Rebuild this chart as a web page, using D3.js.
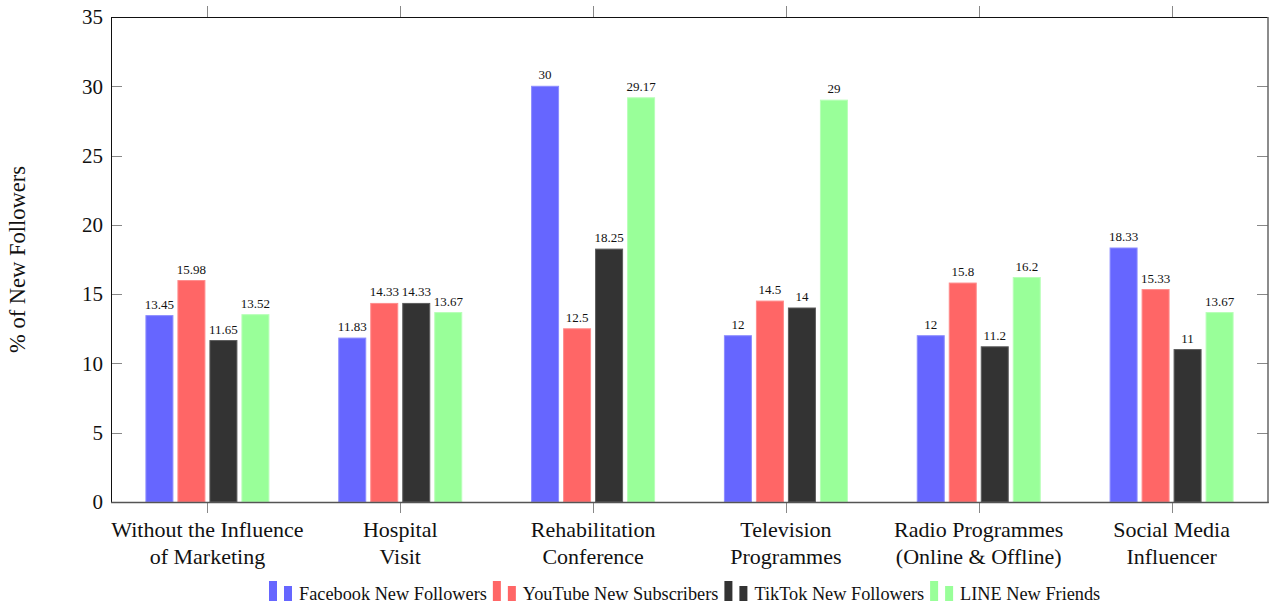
<!DOCTYPE html>
<html>
<head>
<meta charset="utf-8">
<script src="https://cdn.jsdelivr.net/npm/d3@7"></script>
<style>
  html, body { margin: 0; padding: 0; background: #fff; }
  svg { display: block; font-family: "Liberation Serif", "DejaVu Serif", serif; }
</style>
</head>
<body>
<svg id="chart" width="1270" height="607"></svg>
<script>
// Channels (x categories), each label split over two lines
const categories = [
  ["Without the Influence", "of Marketing"],
  ["Hospital", "Visit"],
  ["Rehabilitation", "Conference"],
  ["Television", "Programmes"],
  ["Radio Programmes", "(Online & Offline)"],
  ["Social Media", "Influencer"]
];

const seriesNames = ["Facebook New Followers", "YouTube New Subscribers", "TikTok New Followers", "LINE New Friends"];
const seriesColors = ["#6666ff", "#ff6666", "#333333", "#99ff99"];
const seriesEdges = ["#8c8cff", "#ff8c8c", "#5c5c5c", "#b8ffb8"];

const facebook = [13.45, 11.83, 30, 12, 12, 18.33];
const youtube  = [15.98, 14.33, 12.5, 14.5, 15.8, 15.33];
const tiktok   = [11.65, 14.33, 18.25, 14, 11.2, 11];
const line     = [13.52, 13.67, 29.17, 29, 16.2, 13.67];

const yTicks = [0, 5, 10, 15, 20, 25, 30, 35];

const series = [facebook, youtube, tiktok, line];

const svg = d3.select("#chart");
const plotL = 111, plotR = 1268, plotT = 17, plotB = 502;

const x = d3.scaleBand().domain(d3.range(categories.length)).range([plotL, plotR]).paddingInner(0).paddingOuter(0);
const y = d3.scaleLinear().domain([0, 35]).range([plotB, plotT]);

// offsets of the four bars around each category centre
const barW = 27, barStep = 32;
const offset = d3.scaleLinear().domain([0, 3]).range([-1.5 * barStep, 1.5 * barStep]);

// bars
series.forEach((vals, s) => {
  svg.append("g").selectAll("rect").data(vals).join("rect")
    .attr("x", (d, i) => x(i) + x.bandwidth() / 2 + offset(s) - barW / 2)
    .attr("y", d => y(d))
    .attr("width", barW)
    .attr("height", d => y(0) - y(d))
    .attr("fill", seriesColors[s])
    .attr("stroke", seriesEdges[s])
    .attr("stroke-width", 1);

  svg.append("g").selectAll("text").data(vals).join("text")
    .attr("x", (d, i) => x(i) + x.bandwidth() / 2 + offset(s))
    .attr("y", d => y(d) - 7)
    .attr("text-anchor", "middle")
    .attr("font-size", 13)
    .attr("fill", "#111")
    .text(d => d);
});

// y axis ticks (inward, both sides) and labels
const yAxisG = svg.append("g");
const innerTicks = yTicks.filter(t => t > 0 && t < 35);
yAxisG.selectAll("line.l").data(innerTicks).join("line")
  .attr("x1", plotL).attr("x2", plotL + 11)
  .attr("y1", d => Math.round(y(d)) + 0.5).attr("y2", d => Math.round(y(d)) + 0.5)
  .attr("stroke", "#888");
yAxisG.selectAll("line.r").data(innerTicks).join("line")
  .attr("x1", plotR - 11).attr("x2", plotR)
  .attr("y1", d => Math.round(y(d)) + 0.5).attr("y2", d => Math.round(y(d)) + 0.5)
  .attr("stroke", "#888");
yAxisG.selectAll("text").data(yTicks).join("text")
  .attr("x", plotL - 8)
  .attr("y", d => y(d))
  .attr("dy", "0.35em")
  .attr("text-anchor", "end")
  .attr("font-size", 21)
  .attr("fill", "#111")
  .text(d => d);

// x ticks (outward, top and bottom) and two-line category labels
const xTickG = svg.append("g");
categories.forEach((c, i) => {
  const cx = Math.round(x(i) + x.bandwidth() / 2) + 0.5;
  xTickG.append("line").attr("x1", cx).attr("x2", cx).attr("y1", plotT - 11).attr("y2", plotT).attr("stroke", "#888");
  xTickG.append("line").attr("x1", cx).attr("x2", cx).attr("y1", plotB).attr("y2", plotB + 11).attr("stroke", "#888");
  const t = xTickG.append("text")
    .attr("x", x(i) + x.bandwidth() / 2)
    .attr("y", 537)
    .attr("text-anchor", "middle")
    .attr("font-size", 22)
    .attr("fill", "#111");
  c.forEach((ln, k) => {
    t.append("tspan").attr("x", x(i) + x.bandwidth() / 2).attr("dy", k === 0 ? 0 : 27).text(ln);
  });
});

// frame
svg.append("line").attr("x1", plotL + 0.5).attr("x2", plotL + 0.5).attr("y1", plotT).attr("y2", plotB + 1).attr("stroke", "#111");
svg.append("line").attr("x1", plotL).attr("x2", plotR).attr("y1", plotT + 0.5).attr("y2", plotT + 0.5).attr("stroke", "#111");
svg.append("line").attr("x1", plotR).attr("x2", plotR).attr("y1", plotT).attr("y2", plotB + 1).attr("stroke", "#666").attr("stroke-width", 1.5);
svg.append("line").attr("x1", plotL).attr("x2", plotR + 0.75).attr("y1", plotB + 0.5).attr("y2", plotB + 0.5).attr("stroke", "#555").attr("stroke-width", 1.3);

// y axis title
svg.append("text")
  .attr("transform", `translate(25, ${(plotT + plotB) / 2}) rotate(-90)`)
  .attr("text-anchor", "middle")
  .attr("font-size", 22.5)
  .attr("fill", "#111")
  .text("% of New Followers");

// legend: each entry shows a pair of small bars followed by its name; the row is centred under the plot
const legend = svg.append("g");
let lx = 0;
const legendY = 601;
seriesNames.forEach((name, s) => {
  legend.append("rect").attr("x", lx).attr("y", legendY - 20).attr("width", 8).attr("height", 20).attr("fill", seriesColors[s]);
  legend.append("rect").attr("x", lx + 15).attr("y", legendY - 15).attr("width", 8).attr("height", 15).attr("fill", seriesColors[s]);
  const t = legend.append("text")
    .attr("x", lx + 30)
    .attr("y", legendY - 1)
    .attr("font-size", 18.3)
    .attr("fill", "#111")
    .text(name);
  lx += 30 + t.node().getComputedTextLength() + (s < seriesNames.length - 1 ? 6 : 0);
});
legend.attr("transform", `translate(${Math.round((plotL + plotR) / 2 - lx / 2 - 5)},0)`);
</script>
</body>
</html>
